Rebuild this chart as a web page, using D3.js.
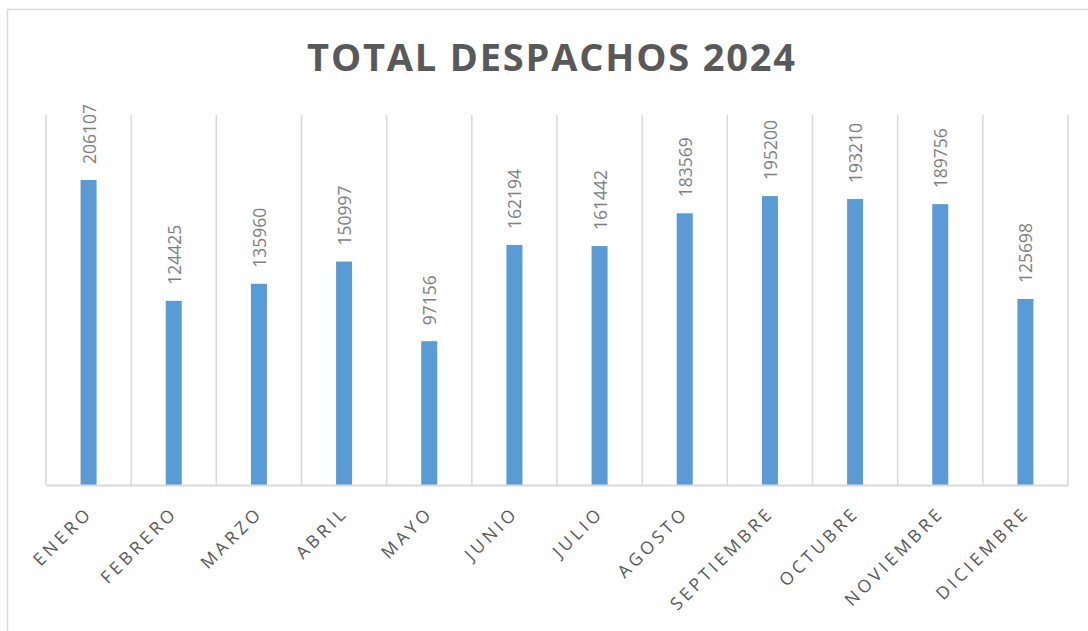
<!DOCTYPE html>
<html>
<head>
<meta charset="utf-8">
<script src="https://cdn.jsdelivr.net/npm/d3@7"></script>
<style>
  body { margin: 0; background: #fff; }
  svg { display: block; }
</style>
</head>
<body>
<div id="chart"></div>
<script>
// data
const months = ["ENERO", "FEBRERO", "MARZO", "ABRIL", "MAYO", "JUNIO", "JULIO",
  "AGOSTO", "SEPTIEMBRE", "OCTUBRE", "NOVIEMBRE", "DICIEMBRE"];
const despachos = [206107, 124425, 135960, 150997, 97156, 162194, 161442,
  183569, 195200, 193210, 189756, 125698];
const yDomain = [0, 250000];
const title = "TOTAL DESPACHOS 2024";

const width = 1088, height = 631;
const plot = { left: 46, right: 1068, top: 115, bottom: 485 };
const gridColor = "#d9d9d9";

const svg = d3.select("#chart").append("svg")
  .attr("width", width)
  .attr("height", height);

// chart frame
svg.append("rect")
  .attr("x", 7.5).attr("y", 9.5)
  .attr("width", width).attr("height", height)
  .attr("fill", "none")
  .attr("stroke", gridColor)
  .attr("stroke-width", 1.5);

// scales
const xScale = d3.scaleBand().domain(months).range([plot.left, plot.right]).padding(0);
const barScale = d3.scaleBand().domain(months).range([plot.left, plot.right])
  .paddingInner(0.812).paddingOuter(0.406);
const yScale = d3.scaleLinear().domain(yDomain).range([plot.bottom, plot.top]);

// vertical gridlines on category boundaries
const bounds = months.map(m => xScale(m)).concat([plot.right]);
svg.append("g").selectAll("line")
  .data(bounds)
  .join("line")
  .attr("x1", d => d).attr("x2", d => d)
  .attr("y1", yScale(yDomain[1])).attr("y2", yScale(0))
  .attr("stroke", gridColor)
  .attr("stroke-width", 1.5);

// bars
const data = months.map((m, i) => ({ month: m, value: despachos[i] }));
svg.append("g").selectAll("rect")
  .data(data)
  .join("rect")
  .attr("x", d => barScale(d.month))
  .attr("y", d => yScale(d.value))
  .attr("width", barScale.bandwidth())
  .attr("height", d => yScale(0) - yScale(d.value))
  .attr("fill", "#5b9bd5");

// x axis
const xAxis = svg.append("g")
  .attr("transform", `translate(0,${plot.bottom})`)
  .call(d3.axisBottom(xScale).tickSize(0).tickPadding(0));
xAxis.select(".domain")
  .attr("stroke", gridColor)
  .attr("stroke-width", 2);
xAxis.selectAll("text")
  .attr("font-family", "'Open Sans', sans-serif")
  .attr("font-size", 17.5)
  .attr("letter-spacing", "3.6px")
  .attr("fill", "#595959")
  .attr("text-anchor", "end")
  .attr("dy", 0)
  .attr("transform", "translate(5,29) rotate(-45)");

// value labels
svg.append("g").selectAll("text")
  .data(data)
  .join("text")
  .attr("transform", d => `translate(${xScale(d.month) + xScale.bandwidth() / 2 + 7},${yScale(d.value) - 16}) rotate(-90)`)
  .attr("font-family", "'Open Sans', sans-serif")
  .attr("font-size", 17.5)
  .attr("fill", "#7f7f7f")
  .text(d => d.value);

// title
const titleText = svg.append("text")
  .attr("x", 552)
  .attr("y", 71)
  .attr("text-anchor", "middle")
  .attr("font-family", "'Open Sans', sans-serif")
  .attr("font-weight", "bold")
  .attr("font-size", 38)
  .attr("fill", "#595959")
  .text(title);
// stretch spacing so the title spans the same width as the original
const tw = titleText.node().getComputedTextLength();
const spacing = (488 - tw) / (title.length - 1);
titleText.attr("letter-spacing", spacing + "px");
</script>
</body>
</html>
